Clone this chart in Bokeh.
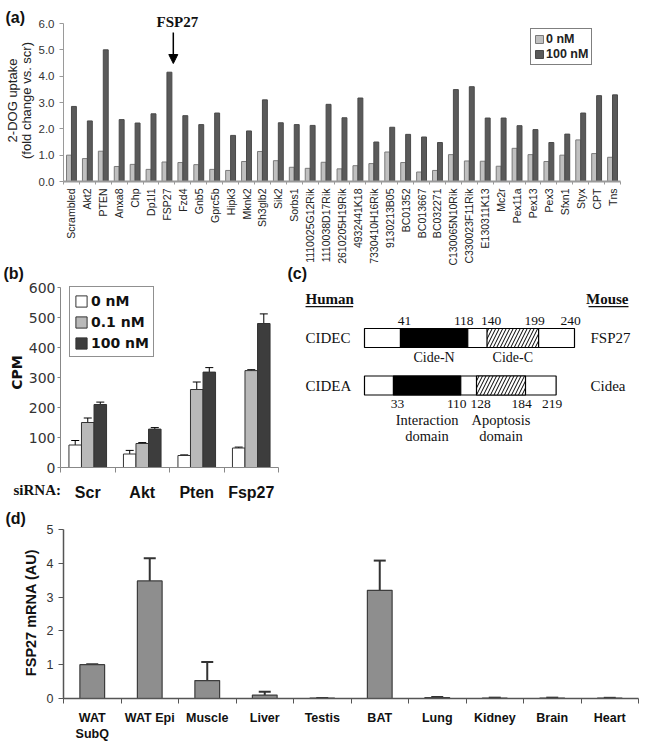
import numpy as np
from bokeh.plotting import figure
from bokeh.models import (ColumnDataSource, Range1d, FixedTicker, Label, Legend, LegendItem,
                          Whisker, TeeHead, PrintfTickFormatter, Arrow, NormalHead)
from bokeh.layouts import column, row
from bokeh.embed import file_html
from bokeh.resources import INLINE
from bokeh.core.properties import value

SANS, SERIF, VERD = "Liberation Sans", "Liberation Serif", "DejaVu Sans"

# ---------------- data ----------------
# (a) siRNA screen: 2-DOG uptake, fold change vs scrambled
genes = ["Scrambled", "Akt2", "PTEN", "Anxa8", "Chp", "Dp1l1", "FSP27", "Fzd4", "Gnb5",
         "Gprc5b", "Hipk3", "Mknk2", "Sh3glb2", "Sik2", "Sorbs1", "1110025G12Rik",
         "1110038D17Rik", "2610205H19Rik", "4932441K18", "7330410H16Rik", "9130213B05",
         "BC01352", "BC013667", "BC032271", "C130065N10Rik", "C330023F11Rik",
         "E130311K13", "Mc2r", "Pex11a", "Pex13", "Pex3", "Sfxn1", "Styx", "CPT", "Tns"]
uptake_0nM = [1.0, 0.87, 1.15, 0.57, 0.65, 0.46, 0.74, 0.72, 0.64, 0.46, 0.42, 0.76, 1.14,
              0.79, 0.54, 0.50, 0.73, 0.48, 0.60, 0.68, 1.12, 0.72, 0.36, 0.42, 1.02, 0.78,
              0.77, 0.58, 1.26, 1.02, 0.76, 1.00, 1.58, 1.06, 0.92]
uptake_100nM = [2.85, 2.30, 5.00, 2.35, 2.22, 2.57, 4.15, 2.50, 2.16, 2.60, 1.75, 1.92, 3.10,
                2.23, 2.16, 2.13, 2.93, 2.42, 3.17, 1.50, 2.06, 1.79, 1.69, 1.48, 3.49, 3.60,
                2.41, 2.41, 2.12, 1.97, 1.48, 1.80, 2.60, 3.26, 3.29]
uptake_series = ["0 nM", "100 nM"]
uptake_ticks = [0, 1, 2, 3, 4, 5, 6]
highlight_gene = "FSP27"

# (b) CPM by siRNA and insulin dose
sirna = ["Scr", "Akt", "Pten", "Fsp27"]
cpm_series = ["0 nM", "0.1 nM", "100 nM"]
cpm_0nM = [75, 45, 40, 65]
cpm_0nM_err = [15, 12, 2, 3]
cpm_01nM = [150, 80, 260, 323]
cpm_01nM_err = [15, 3, 25, 3]
cpm_100nM = [210, 128, 318, 480]
cpm_100nM_err = [8, 5, 15, 32]
cpm_ticks = [0, 100, 200, 300, 400, 500, 600]

# (c) domain structure
proteins_human = ["CIDEC", "CIDEA"]
proteins_mouse = ["FSP27", "Cidea"]
protein_length = [240, 219]
domain1_start = [41, 33]
domain1_end = [118, 110]
domain2_start = [140, 128]
domain2_end = [199, 184]
domain1_name = ["Cide-N", "Interaction domain"]
domain2_name = ["Cide-C", "Apoptosis domain"]

# (d) tissue distribution of FSP27 mRNA
tissues = ["WAT\nSubQ", "WAT Epi", "Muscle", "Liver", "Testis", "BAT", "Lung", "Kidney",
           "Brain", "Heart"]
fsp27_mrna = [1.0, 3.48, 0.53, 0.10, 0.01, 3.20, 0.03, 0.015, 0.015, 0.01]
fsp27_mrna_err = [0.01, 0.67, 0.55, 0.10, 0.005, 0.88, 0.015, 0.01, 0.01, 0.01]
mrna_ticks = [0, 1, 2, 3, 4, 5]


# ---------------- helpers ----------------
def mapper(x0, ppx, y0, ppy):
    """pixel (canvas-local) -> data for a frame that fills the canvas"""
    return (lambda px: (px - x0) / ppx), (lambda py: (y0 - py) / ppy)


def canvas_fig(w, h, xr, yr):
    p = figure(width=w, height=h, x_range=xr, y_range=yr, output_backend="svg",
               toolbar_location=None, min_border=0, min_border_left=0,
               min_border_right=0, min_border_top=0, min_border_bottom=0)
    p.outline_line_color = None
    p.background_fill_color = "white"
    p.border_fill_color = "white"
    p.grid.visible = False
    return p


def lab(p, x, y, text, size, font=SANS, bold=False, angle=0.0, align="left",
        baseline="middle", color="#111111"):
    p.add_layout(Label(x=x, y=y, text=text, angle=angle, text_align=align,
                       text_baseline=baseline, text_font=font, text_font_size=size,
                       text_font_style="bold" if bold else "normal", text_color=color))


def style_axis(a, font, size, color, line_color, bold=False, tick_out=0, standoff=4,
               line_width=1):
    a.major_label_text_font = font
    a.major_label_text_font_size = size
    a.major_label_text_color = color
    a.major_label_text_font_style = "bold" if bold else "normal"
    a.axis_line_color = line_color
    a.axis_line_width = line_width
    a.major_tick_line_color = line_color
    a.major_tick_out = tick_out
    a.major_tick_in = 0
    a.minor_tick_line_color = None
    a.major_label_standoff = standoff


def category_axis(a, centers, labels, n, tick_out, color):
    a.ticker = FixedTicker(ticks=centers, minor_ticks=list(range(n + 1)))
    a.major_label_overrides = {x: s for x, s in zip(centers, labels)}
    a.major_tick_line_color = None
    a.major_tick_out = 0
    a.minor_tick_out = tick_out
    a.minor_tick_in = 0
    a.minor_tick_line_color = color
    a.fixed_location = 0
    a.bounds = (0, n)


# ---------------- panel (a) ----------------
WA, HA = 644, 265
n = len(genes)
fxA, fyA = mapper(63, 557 / n, 181, 158 / 6)
pa = canvas_fig(WA, HA, Range1d(fxA(0), fxA(WA)), Range1d(fyA(HA), fyA(0)))
xa = [i + 0.5 for i in range(n)]
bw = 0.31
src_a = ColumnDataSource(dict(x=xa, xl=[x - bw / 2 for x in xa], xr=[x + bw / 2 for x in xa],
                              v0=uptake_0nM, v1=uptake_100nM))
r_a0 = pa.vbar(x="xl", top="v0", width=bw, source=src_a,
               fill_color="#c0c0c0", line_color="#7a7a7a", line_width=1)
r_a1 = pa.vbar(x="xr", top="v1", width=bw, source=src_a,
               fill_color="#5a5a5a", line_color="#4a4a4a", line_width=1)

ax = pa.xaxis[0]
style_axis(ax, SANS, "10.5px", "#222222", "#9a9a9a", line_width=2, standoff=4)
category_axis(ax, xa, genes, n, 3, "#9a9a9a")
ax.major_label_orientation = np.pi / 2

ay = pa.yaxis[0]
style_axis(ay, SANS, "11.5px", "#333333", "#9a9a9a", tick_out=4, standoff=5)
ay.ticker = FixedTicker(ticks=uptake_ticks)
ay.formatter = PrintfTickFormatter(format="%.1f")
ay.bounds = (uptake_ticks[0], uptake_ticks[-1])
ay.fixed_location = 0

leg_a = Legend(items=[LegendItem(label=uptake_series[0], renderers=[r_a0]),
                      LegendItem(label=uptake_series[1], renderers=[r_a1])],
               location=(530, HA - 65), orientation="vertical", padding=3, spacing=1,
               margin=0, label_height=13, glyph_height=10, glyph_width=10,
               label_standoff=2, border_line_color="black", border_line_width=1,
               label_text_font=SANS, label_text_font_style="bold",
               label_text_font_size="12.5px", label_text_color="#222222")
pa.add_layout(leg_a)

fi = genes.index(highlight_gene)
arrow_x = xa[fi] + 0.4
pa.add_layout(Arrow(end=NormalHead(size=9, fill_color="black", line_color="black"),
                    x_start=arrow_x, y_start=fyA(32), x_end=arrow_x,
                    y_end=uptake_100nM[fi] + 0.33, line_width=1.5, line_color="black"))
lab(pa, xa[fi] + 0.66, fyA(29), highlight_gene, "15px", font=SERIF, bold=True,
    align="center", baseline="bottom")

lab(pa, fxA(5), fyA(17), "(a)", "16px", bold=True)
lab(pa, fxA(12), fyA(100), "2-DOG uptake", "13px", angle=np.pi / 2, align="center",
    color="#222222")
lab(pa, fxA(26), fyA(100), "(fold change vs. scr)", "13px", angle=np.pi / 2,
    align="center", color="#222222")

# ---------------- panel (b) ----------------
WB, HB = 283, 240
m = len(sirna)
fxB, fyB = mapper(60, 54.5, 202, 0.3)
pb = canvas_fig(WB, HB, Range1d(fxB(0), fxB(WB)), Range1d(fyB(HB), fyB(0)))
xb = [i + 0.5 for i in range(m)]
bwb = 0.23
series_b = [(cpm_0nM, cpm_0nM_err, "#ffffff"),
            (cpm_01nM, cpm_01nM_err, "#b9b9b9"),
            (cpm_100nM, cpm_100nM_err, "#3d3d3d")]
rends_b = []
for k, (vals, errs, color) in enumerate(series_b):
    off = (k - 1) * bwb
    src = ColumnDataSource(dict(xo=[x + off for x in xb], v=vals,
                                up=[v + e for v, e in zip(vals, errs)],
                                lo=[v - e for v, e in zip(vals, errs)]))
    r = pb.vbar(x="xo", top="v", width=bwb, source=src, fill_color=color,
                line_color="#333333", line_width=1)
    rends_b.append(r)
    pb.add_layout(Whisker(source=src, base="xo", upper="up", lower="lo",
                          line_color="black", line_width=1,
                          upper_head=TeeHead(size=8, line_color="black", line_width=1),
                          lower_head=TeeHead(size=8, line_color="black", line_width=1)))

bx = pb.xaxis[0]
style_axis(bx, SANS, "16px", "#111111", "#888888", bold=True, standoff=11)
category_axis(bx, xb, sirna, m, 5, "#888888")

by = pb.yaxis[0]
style_axis(by, VERD, "14px", "#333333", "#888888", tick_out=3, standoff=2)
by.ticker = FixedTicker(ticks=cpm_ticks)
by.bounds = (cpm_ticks[0], cpm_ticks[-1])
by.fixed_location = 0

leg_b = Legend(items=[LegendItem(label=s, renderers=[r]) for s, r in zip(cpm_series, rends_b)],
               location=(69, HB - (357 - 265)), orientation="vertical", padding=4, spacing=2,
               margin=0, label_height=19, glyph_height=14, glyph_width=14, label_standoff=3,
               border_line_color="#222222", border_line_width=1.5,
               label_text_font=VERD, label_text_font_style="bold",
               label_text_font_size="14px", label_text_color="#111111")
pb.add_layout(leg_b)

lab(pb, fxB(3), fyB(273 - 265), "(b)", "16px", bold=True)
lab(pb, fxB(16), fyB(372 - 265), "CPM", "14px", font=VERD, bold=True, angle=np.pi / 2,
    align="center")
lab(pb, fxB(13), fyB(489 - 265), "siRNA:", "15px", font=SERIF, bold=True)

# ---------------- panel (c) ----------------
WC, HC = 361, 240
res_px = 0.875          # pixels per residue
x0c = 364 - 283         # canvas x of residue 0
row_px, row0c = 47.5, 337.5 - 265
pc = figure(width=WC, height=HC, x_range=Range1d(-x0c / res_px, (WC - x0c) / res_px),
            y_range=Range1d((HC - row0c) / row_px, -row0c / row_px), output_backend="svg",
            toolbar_location=None, min_border=0, x_axis_location=None, y_axis_location=None)
pc.outline_line_color = None
pc.grid.visible = False
rows = list(range(len(proteins_human)))
half = 0.2
tops = [r - half for r in rows]
bots = [r + half for r in rows]
pc.quad(left=[0] * len(rows), right=protein_length, top=tops, bottom=bots,
        fill_color="white", line_color="black", line_width=1.2)
pc.quad(left=domain1_start, right=domain1_end, top=tops, bottom=bots,
        fill_color="black", line_color="black", line_width=1.2)
pc.quad(left=domain2_start, right=domain2_end, top=tops, bottom=bots,
        fill_color="white", line_color="black", line_width=1.2, hatch_pattern="/",
        hatch_color="black", hatch_weight=1, hatch_scale=7)

for r in rows:
    starts = [domain1_start[r], domain2_start[r]]
    ends = [domain1_end[r], domain2_end[r], protein_length[r]]
    yy = -0.27 if r == 0 else r + 0.3
    base = "bottom" if r == 0 else "top"
    pc.text(x=starts, y=[yy] * len(starts), text=[str(v) for v in starts], x_offset=4,
            text_font=value(SERIF), text_font_size="13.5px", text_align="center",
            text_baseline=base, text_color="#111111")
    pc.text(x=ends, y=[yy] * len(ends), text=[str(v) for v in ends], x_offset=-4,
            text_font=value(SERIF), text_font_size="13.5px", text_align="center",
            text_baseline=base, text_color="#111111")

pc.text(x=[0] * len(rows), y=rows, text=proteins_human, x_offset=-59,
        text_font=value(SERIF), text_font_size="15px", text_align="left",
        text_baseline="middle", text_color="#111111")
pc.text(x=[max(protein_length)] * len(rows), y=rows, text=proteins_mouse, x_offset=16,
        text_font=value(SERIF), text_font_size="15px", text_align="left",
        text_baseline="middle", text_color="#111111")

pc.text(x=[(domain1_start[0] + domain1_end[0]) / 2, (domain2_start[0] + domain2_end[0]) / 2],
        y=[0.26, 0.26], text=[domain1_name[0], domain2_name[0]], text_font=value(SERIF),
        text_font_size="14px", text_align="center", text_baseline="top",
        text_color="#111111")
for name, (s, e) in [(domain1_name[1], (domain1_start[1], domain1_end[1])),
                     (domain2_name[1], (domain2_start[1], domain2_end[1]))]:
    w1, w2 = name.split(" ")
    pc.text(x=[(s + e) / 2] * 2, y=[1.55, 1.9], text=[w1, w2], text_font=value(SERIF),
            text_font_size="14.5px", text_align="center", text_baseline="top",
            text_color="#111111")

pc.text(x=[0], y=[-0.83], text=["Human"], x_offset=-59, text_font=value(SERIF),
        text_font_size="15px", text_font_style="bold", text_align="left",
        text_baseline="middle", text_color="#111111")
pc.text(x=[protein_length[0]], y=[-0.83], text=["Mouse"], x_offset=54,
        text_font=value(SERIF), text_font_size="15px", text_font_style="bold",
        text_align="right", text_baseline="middle", text_color="#111111")
pc.segment(x0=[-67.4, 256.0], x1=[-13.0, 301.7], y0=[-0.66, -0.66], y1=[-0.66, -0.66],
           line_color="#111111", line_width=1.2)
pc.text(x=[(287 - 364) / res_px], y=[(273 - 337.5) / row_px], text=["(c)"],
        text_font=value(SANS), text_font_size="16px", text_font_style="bold",
        text_align="left", text_baseline="middle", text_color="#111111")

# ---------------- panel (d) ----------------
WD, HD = 644, 239
t = len(tissues)
fxD, fyD = mapper(63, 57.5, 698 - 505, 33.8)
pdd = canvas_fig(WD, HD, Range1d(fxD(0), fxD(WD)), Range1d(fyD(HD), fyD(0)))
xd = [i + 0.5 for i in range(t)]
src_d = ColumnDataSource(dict(x=xd, v=fsp27_mrna,
                              up=[v + e for v, e in zip(fsp27_mrna, fsp27_mrna_err)]))
pdd.vbar(x="x", top="v", width=0.43, source=src_d, fill_color="#8e8e8e",
         line_color="#3d3d3d", line_width=1.2)
pdd.add_layout(Whisker(source=src_d, base="x", upper="up", lower="v", line_color="#333333",
                       line_width=2, lower_head=None,
                       upper_head=TeeHead(size=12, line_color="#333333", line_width=2)))
dx = pdd.xaxis[0]
style_axis(dx, SANS, "12.5px", "#111111", "#555555", bold=True, standoff=7, line_width=1.5)
category_axis(dx, xd, tissues, t, 5, "#555555")

dy_ = pdd.yaxis[0]
style_axis(dy_, SANS, "12.5px", "#333333", "#555555", tick_out=5, standoff=5, line_width=1.5)
dy_.ticker = FixedTicker(ticks=mrna_ticks)
dy_.bounds = (mrna_ticks[0], mrna_ticks[-1])
dy_.fixed_location = 0

lab(pdd, fxD(5), fyD(518 - 505), "(d)", "16px", bold=True)
lab(pdd, fxD(30), fyD(612 - 505), "FSP27 mRNA (AU)", "14.5px", bold=True, angle=np.pi / 2,
    align="center")

p = column(pa, row(pb, pc), pdd)
open("out.html", "w").write(file_html(p, INLINE))
